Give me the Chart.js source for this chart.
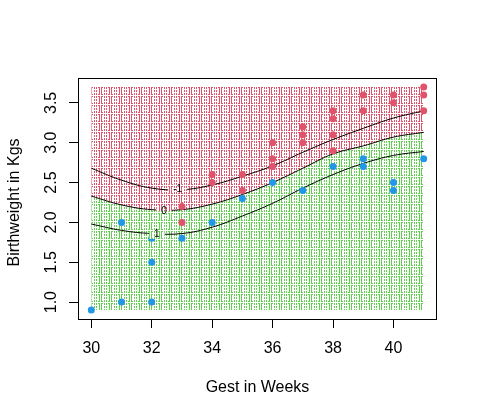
<!DOCTYPE html>
<html>
<head>
  <meta charset="utf-8">
  <title>Birthweight vs Gestation</title>
  <script src="https://cdn.jsdelivr.net/npm/chart.js"></script>
  <style>
    html, body {
      margin: 0;
      padding: 0;
      background-color: #fff;
    }
    #wrap {
      width: 477px;
      height: 417px;
    }
    canvas {
      display: block;
    }
  </style>
</head>
<body>
  <div id="wrap"><canvas id="myChart"></canvas></div>

  <script>
    // observed babies
    const redWeeks   = [33, 33, 34, 34, 35, 35, 36, 36, 36, 37, 37, 37, 38, 38, 38, 38, 39, 39, 40, 40, 41, 41, 41];
    const redWeights = [2.2, 2.0, 2.6, 2.5, 2.6, 2.4, 3.0, 2.8, 2.7, 3.2, 3.1, 3.0, 3.4, 3.3, 3.1, 2.9, 3.6, 3.4, 3.6, 3.5, 3.7, 3.6, 3.4];
    const blueWeeks   = [30, 31, 31, 32, 32, 32, 33, 34, 35, 36, 37, 38, 39, 39, 40, 40, 41];
    const blueWeights = [0.9, 2.0, 1.0, 1.8, 1.5, 1.0, 1.8, 2.0, 2.3, 2.5, 2.4, 2.7, 2.8, 2.7, 2.5, 2.4, 2.8];

    // contour lines (-1, 0, 1) read at each week
    const contourWeeks  = [30, 31, 32, 33, 34, 35, 36, 37, 38, 39, 40, 41];
    const contourMinus1 = [2.68, 2.53, 2.43, 2.41, 2.47, 2.58, 2.71, 2.88, 3.04, 3.18, 3.31, 3.40];
    const contourZero   = [2.33, 2.22, 2.16, 2.16, 2.23, 2.35, 2.50, 2.68, 2.86, 2.96, 3.07, 3.13];
    const contourPlus1  = [1.98, 1.90, 1.86, 1.86, 1.94, 2.08, 2.24, 2.43, 2.60, 2.74, 2.84, 2.89];

    // contour labels
    const contourLabels       = ['-1', '0', '1'];
    const contourLabelWeeks   = [32.86, 32.41, 32.17];
    const contourLabelWeights = [2.41, 2.14, 1.855];

    // prediction grid extent
    const gridTop = 3.7;
    const gridBottom = 0.9;

    // axes
    const xMin = 29.56, xMax = 41.44;
    const yMin = 0.788, yMax = 3.812;
    const xTicks = [30, 32, 34, 36, 38, 40];
    const yTicks = [1.0, 1.5, 2.0, 2.5, 3.0, 3.5];
    const yTickLabels = ['1.0', '1.5', '2.0', '2.5', '3.0', '3.5'];

    const RED = '#DF536B';
    const BLUE = '#2297E6';
    const GREEN = '#61D04F';
    const FONT = '"Liberation Sans", Arial, sans-serif';

    // one cell of the dotted prediction grid, repeated as a fill pattern
    function makePattern(color) {
      const rows = [
        '11.1.1.11.',
        '1..1.1..1.',
        '1.......1.',
        '1..1.1..1.',
        '1..1.1..1.',
        '1.......1.',
        '1..1.1..1.',
        '11.1.1.11.',
        '..........'
      ];
      const c = document.createElement('canvas');
      c.width = 10;
      c.height = 9;
      const g = c.getContext('2d');
      g.fillStyle = color;
      rows.forEach((r, yy) => {
        for (let xx = 0; xx < r.length; xx++) {
          if (r[xx] === '1') g.fillRect(xx, yy, 1, 1);
        }
      });
      const p = g.createPattern(c, 'repeat');
      p.setTransform(new DOMMatrix().translate(1, 6));
      return p;
    }

    const redPattern = makePattern(RED);
    const greenPattern = makePattern(GREEN);

    const toXY = (xs, ys) => xs.map((v, i) => ({ x: v, y: ys[i] }));
    const zeroData = toXY(contourWeeks, contourZero);

    const lineCommon = {
      type: 'line',
      borderColor: '#000',
      borderWidth: 1,
      pointRadius: 0,
      tension: 0.4,
      fill: false
    };

    const overlay = {
      id: 'overlay',
      afterDatasetsDraw(chart) {
        const { ctx, scales: { x, y } } = chart;
        const above = [redPattern, redPattern, greenPattern];
        const below = [redPattern, greenPattern, greenPattern];
        ctx.save();
        ctx.font = '10px ' + FONT;
        contourLabels.forEach((t, i) => {
          const px = x.getPixelForValue(contourLabelWeeks[i]);
          const py = y.getPixelForValue(contourLabelWeights[i]);
          const w = ctx.measureText(t).width + 10;
          ctx.fillStyle = '#fff';
          ctx.fillRect(px - w / 2, py - 5, w, 10);
          ctx.fillStyle = above[i];
          ctx.fillRect(px - w / 2, py - 5, w, 5);
          ctx.fillStyle = below[i];
          ctx.fillRect(px - w / 2, py, w, 5);
          ctx.fillStyle = '#000';
          ctx.textAlign = 'center';
          ctx.textBaseline = 'middle';
          ctx.fillText(t, px, py);
        });
        ctx.restore();
      },
      afterDraw(chart) {
        const { ctx, chartArea: a, scales: { y } } = chart;
        ctx.save();
        ctx.strokeStyle = '#000';
        ctx.lineWidth = 1;
        ctx.strokeRect(Math.round(a.left) + 0.5, Math.round(a.top) + 0.5,
          Math.round(a.right - a.left) - 1, Math.round(a.bottom - a.top));
        ctx.fillStyle = '#000';
        ctx.font = '16px ' + FONT;
        ctx.textAlign = 'center';
        ctx.textBaseline = 'alphabetic';
        yTicks.forEach((v, i) => {
          ctx.save();
          ctx.translate(56, y.getPixelForValue(v));
          ctx.rotate(-Math.PI / 2);
          ctx.fillText(yTickLabels[i], 0, 0);
          ctx.restore();
        });
        ctx.translate(18.5, 202.5);
        ctx.rotate(-Math.PI / 2);
        ctx.fillText('Birthweight in Kgs', 0, 0);
        ctx.restore();
      }
    };

    const ctx = document.getElementById('myChart').getContext('2d');
    const chart = new Chart(ctx, {
      type: 'scatter',
      data: {
        datasets: [
          {
            label: 'high',
            data: toXY(redWeeks, redWeights),
            backgroundColor: RED,
            borderWidth: 0,
            pointRadius: 3.5,
            order: 0
          },
          {
            label: 'low',
            data: toXY(blueWeeks, blueWeights),
            backgroundColor: BLUE,
            borderWidth: 0,
            pointRadius: 3.5,
            order: 0
          },
          Object.assign({}, lineCommon, {
            label: '-1',
            data: toXY(contourWeeks, contourMinus1),
            order: 1
          }),
          Object.assign({}, lineCommon, {
            label: '0',
            data: zeroData,
            fill: { value: gridTop },
            backgroundColor: redPattern,
            order: 2
          }),
          Object.assign({}, lineCommon, {
            label: '1',
            data: toXY(contourWeeks, contourPlus1),
            order: 1
          }),
          Object.assign({}, lineCommon, {
            label: 'low region',
            data: zeroData,
            borderWidth: 0,
            borderColor: 'rgba(0,0,0,0)',
            fill: { value: gridBottom },
            backgroundColor: greenPattern,
            order: 3
          })
        ]
      },
      options: {
        responsive: true,
        maintainAspectRatio: false,
        animation: false,
        devicePixelRatio: 1,
        events: [],
        layout: {
          padding: { left: 0, right: 40, top: 78, bottom: 0 }
        },
        plugins: {
          legend: { display: false },
          tooltip: { enabled: false }
        },
        scales: {
          x: {
            type: 'linear',
            min: xMin,
            max: xMax,
            afterBuildTicks: s => { s.ticks = xTicks.map(v => ({ value: v })); },
            afterFit: s => { s.height = 98; },
            border: { display: false },
            grid: {
              drawOnChartArea: false,
              drawTicks: true,
              tickLength: 9,
              color: '#000',
              lineWidth: 1
            },
            ticks: {
              color: '#000',
              font: { family: FONT, size: 16 },
              padding: 11,
              maxRotation: 0,
              autoSkip: false,
              callback: v => String(v)
            },
            title: {
              display: true,
              text: 'Gest in Weeks',
              color: '#000',
              font: { family: FONT, size: 16 },
              padding: { top: 0, bottom: 20 }
            }
          },
          y: {
            type: 'linear',
            min: yMin,
            max: yMax,
            afterBuildTicks: s => { s.ticks = yTicks.map(v => ({ value: v })); },
            afterFit: s => { s.width = 78; },
            border: { display: false },
            grid: {
              drawOnChartArea: false,
              drawTicks: true,
              tickLength: 9,
              color: '#000',
              lineWidth: 1
            },
            ticks: { display: false }
          }
        }
      },
      plugins: [overlay]
    });
  </script>
</body>
</html>
